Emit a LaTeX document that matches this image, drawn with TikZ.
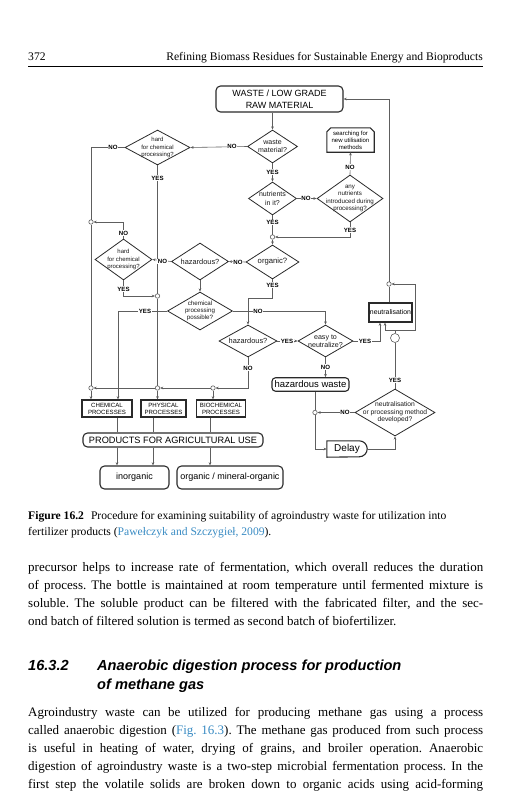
\documentclass[tikz,border=0pt]{standalone}
\usepackage{fontspec}
\setmainfont{Liberation Serif}
\newfontfamily\arialf{Liberation Sans}
\usetikzlibrary{arrows.meta,shapes.geometric}
\definecolor{lncol}{HTML}{5E5E5E}
\definecolor{bdcol}{HTML}{2A2A2A}
\definecolor{citecol}{HTML}{3A8CC4}
\frenchspacing
\tikzset{
 conn/.style={draw=lncol, line width=0.6pt},
 arr/.style={conn, -{Stealth[length=3.2pt,width=2.6pt]}},
 dia/.style={shape=diamond, draw=bdcol, line width=0.8pt, inner sep=0pt, fill=white},
 dtext/.style={align=center, inner sep=0pt, text=black!90},
 box/.style={draw=bdcol, line width=1.1pt, inner sep=0pt, align=center, fill=white},
 rbox/.style={box, rounded corners=4.5pt},
 yn/.style={font=\arialf\bfseries\fontsize{6.1}{6.5}\selectfont, fill=white, inner sep=0.7pt},
 jn/.style={circle, draw=lncol, fill=white, line width=0.6pt, minimum size=4.4pt, inner sep=0pt},
 body/.style={anchor=base west, inner sep=0pt, font=\fontsize{13}{16}\selectfont},
 capt/.style={anchor=base west, inner sep=0pt, font=\fontsize{11.6}{14}\selectfont},
 headg/.style={anchor=base west, inner sep=0pt, font=\arialf\bfseries\itshape\fontsize{14.6}{17}\selectfont},
}
\begin{document}
\begin{tikzpicture}[x=1pt,y=-1pt]
\fill[white] (0,0) rectangle (531,800);
\useasboundingbox (0,0) rectangle (531,800);

% ---------- header ----------
\node[anchor=base west, inner sep=0pt, font=\fontsize{11.6}{13}\selectfont] (pgnum) at (28,60) {372};
\node[anchor=base east, inner sep=0pt, font=\fontsize{11.6}{14}\selectfont] (runhead) at (483,60) {Refining Biomass Residues for Sustainable Energy and Bioproducts};
\coordinate (ruleL) at (28,66);
\coordinate (ruleR) at (483,66);
\draw[line width=0.6pt] (ruleL) -- (ruleR);

% ---------- boxes ----------
\node[rbox, minimum width=127pt, minimum height=26pt, font=\arialf\fontsize{9}{11.5}\selectfont] (waste) at (279.5,99) {WASTE / LOW GRADE\\RAW MATERIAL};

\node[minimum width=47pt, minimum height=24pt, inner sep=0pt, align=center, font=\arialf\fontsize{6}{7}\selectfont] (search) at (350.5,140) {searching for\\new utilisation\\methods};
\draw[draw=bdcol, line width=1.1pt] (search.south west) -- ([yshift=-4pt]search.north west) -- ([xshift=4pt]search.north west) -- ([xshift=-4pt]search.north east) -- ([yshift=-4pt]search.north east) -- (search.south east) -- cycle;

\node[box, minimum width=43pt, minimum height=19pt, font=\arialf\fontsize{6.9}{8}\selectfont] (neut) at (390.5,312.5) {neutralisation};
\node[rbox, rounded corners=3.5pt, minimum width=77pt, minimum height=13.5pt, font=\arialf\fontsize{9.5}{11}\selectfont] (hazw) at (310.5,384.5) {hazardous waste};
\node[minimum width=40pt, minimum height=16pt, inner sep=0pt, font=\arialf\fontsize{10}{12}\selectfont] (delay) at (347,449) {Delay\hspace{4pt}};
\draw[draw=bdcol, line width=1.1pt] (delay.south west) -- (delay.north west) -- ([xshift=-8pt]delay.north east) arc[start angle=90, end angle=-90, radius=8pt] -- cycle;

\node[box, minimum width=50pt, minimum height=17pt, font=\arialf\fontsize{6.1}{7}\selectfont] (chembox) at (107,408.5) {CHEMICAL\\PROCESSES};
\node[box, minimum width=45pt, minimum height=17pt, font=\arialf\fontsize{6.1}{7}\selectfont] (physbox) at (163.5,408.5) {PHYSICAL\\PROCESSES};
\node[box, minimum width=49pt, minimum height=17pt, font=\arialf\fontsize{6.1}{7}\selectfont] (biobox) at (221,408.5) {BIOCHEMICAL\\PROCESSES};
\node[rbox, minimum width=180pt, minimum height=14pt, font=\arialf\fontsize{9.2}{11}\selectfont] (prod) at (173,440) {PRODUCTS FOR AGRICULTURAL USE};
\node[rbox, minimum width=69pt, minimum height=23pt, font=\arialf\fontsize{9}{11}\selectfont] (inorg) at (134.5,477.5) {inorganic};
\node[rbox, minimum width=106pt, minimum height=23pt, font=\arialf\fontsize{9}{11}\selectfont] (orgm) at (230,477.5) {organic / mineral-organic};

% ---------- diamonds ----------
\node[dia, minimum width=50pt, minimum height=33pt, label={[name=dwastet, dtext, font=\arialf\fontsize{7}{8}\selectfont]center:{waste\\material?}}] (dwaste) at (272.5,146.5) {};
\node[dia, minimum width=65pt, minimum height=35pt, label={[name=dhardAt, dtext, font=\arialf\fontsize{6}{7.4}\selectfont]center:{hard\\for chemical\\processing?}}] (dhardA) at (157.5,147.5) {};
\node[dia, minimum width=48pt, minimum height=33pt, label={[name=dnutrt, dtext, font=\arialf\fontsize{7}{8.2}\selectfont]center:{nutrients\\in it?}}] (dnutr) at (272.5,198.5) {};
\node[dia, minimum width=66pt, minimum height=47pt, label={[name=danyt, dtext, font=\arialf\fontsize{6.2}{7.1}\selectfont]center:{any\\nutrients\\introduced during\\processing?}}] (dany) at (350,198.5) {};
\node[dia, minimum width=53pt, minimum height=34pt, label={[name=dorgt, dtext, font=\arialf\fontsize{7.7}{9}\selectfont]center:{organic?}}] (dorg) at (272.5,262) {};
\node[dia, minimum width=57pt, minimum height=37pt, label={[name=dhaz1t, dtext, font=\arialf\fontsize{7.4}{9}\selectfont]center:{hazardous?}}] (dhaz1) at (200,261.5) {};
\node[dia, minimum width=57pt, minimum height=41pt, label={[name=dhardBt, dtext, font=\arialf\fontsize{6}{7.4}\selectfont]center:{hard\\for chemical\\processing?}}] (dhardB) at (123.5,259.5) {};
\node[dia, minimum width=65pt, minimum height=38pt, label={[name=dchemt, dtext, font=\arialf\fontsize{6.2}{7.3}\selectfont]center:{chemical\\processing\\possible?}}] (dchem) at (200,311) {};
\node[dia, minimum width=58pt, minimum height=32pt, label={[name=dhaz2t, dtext, font=\arialf\fontsize{7.4}{9}\selectfont]center:{hazardous?}}] (dhaz2) at (248,341) {};
\node[dia, minimum width=55pt, minimum height=32pt, label={[name=deasyt, dtext, font=\arialf\fontsize{7.1}{8.2}\selectfont]center:{easy to\\neutralize?}}] (deasy) at (325.5,341) {};
\node[dia, minimum width=80pt, minimum height=47pt, label={[name=ddevt, dtext, font=\arialf\fontsize{6.7}{7.7}\selectfont]center:{neutralisation\\or processing method\\developed?}}] (ddev) at (395,412.5) {};

% ---------- junctions ----------
\node[jn] (c0) at (91,222) {};
\node[jn] (c1) at (272.5,237) {};
\node[jn] (c2) at (157.5,296) {};
\node[jn] (c3) at (91,388) {};
\node[jn] (c4) at (157.5,388) {};
\node[jn] (c5) at (213,388) {};
\node[jn] (c6) at (389,284) {};
\node[jn, minimum size=9pt] (c7) at (395,338) {};
\node[jn] (c8) at (315,412.5) {};

% ---------- connectors ----------
\coordinate (k1) at (91,147.5);
\coordinate (k2) at (118,311);
\coordinate (k3) at (272.5,298);
\coordinate (k5) at (395,330);
\coordinate (k6) at (415,330);
\draw[arr] (waste.south -| dwaste.north) -- (dwaste.north);
\draw[arr] (dwaste.west) -- (dhardA.east);
\draw[conn] (dhardA.west) -- (k1) -- (c0.north);
\draw[conn] (c0.south) -- (c3.north);
\draw[arr] (c3.south) -- (c3.south |- chembox.north);
\draw[conn] (dhardA.south) -- (c2.north);
\draw[conn] (c2.south) -- (c4.north);
\draw[arr] (c4.south) -- (c4.south |- physbox.north);
\draw[arr] (dwaste.south) -- (dnutr.north);
\draw[arr] (dnutr.east) -- (dany.west);
\draw[arr] (dany.north) -- (search.south);
\draw[conn] (dnutr.south) -- (c1.north);
\draw[arr] (dany.south) |- (c1.east);
\draw[arr] (c1.south) -- (dorg.north);
\draw[arr] (dorg.west) -- (dhaz1.east);
\draw[arr] (dhaz1.west) -- (dhardB.east);
\draw[arr] (dhardB.north) |- (c0.east);
\draw[arr] (dhardB.south) |- (c2.west);
\draw[arr] (dhaz1.south) -- (dchem.north);
\draw[arr] (dchem.west) -- (k2) -- (k2 |- chembox.north);
\draw[arr] (dchem.east) -| (deasy.north);
\draw[arr] (dorg.south) -- (k3) -| (dhaz2.north);
\draw[arr] (dhaz2.east) -- (deasy.west);
\draw[arr] (deasy.east) -| ([xshift=-10.5pt]neut.south);
\draw[arr] (deasy.south) -- (deasy.south |- hazw.north);
\draw[arr] (dhaz2.south) |- (c5.east);
\draw[arr] (c5.west) -- (c4.east);
\draw[arr] (c4.west) -- (c3.east);
\draw[arr] (c5.south) -- (c5.south |- biobox.north);
\draw[conn] (c6.south |- neut.north) -- (c6.south);
\draw[arr] (c6.north) |- (waste.east);
\draw[conn] (c7.north) -- (k5);
\draw[arr] (k5) -| ([xshift=-5.5pt]neut.south);
\draw[arr] (k5) -- (k6) |- (c6.east);
\draw[conn] (c7.south) -- (ddev.north);
\draw[arr] (ddev.west) -- (c8.east);
\draw[conn] (c8.north |- hazw.south) -- (c8.north);
\draw[arr] (c8.south) |- (delay.west);
\draw[arr] (delay.east) -| (ddev.south);
\draw[conn] ([xshift=10pt]chembox.south) -- ([xshift=10pt]chembox.south |- prod.north);
\draw[conn] ([xshift=-10.5pt]physbox.south) -- ([xshift=-10.5pt]physbox.south |- prod.north);
\draw[conn] ([xshift=-11pt]biobox.south) -- ([xshift=-11pt]biobox.south |- prod.north);
\draw[arr] ([xshift=-17.5pt]inorg.north |- prod.south) -- ([xshift=-17.5pt]inorg.north);
\draw[arr] ([xshift=18.5pt]inorg.north |- prod.south) -- ([xshift=18.5pt]inorg.north);
\draw[arr] ([xshift=-20pt]orgm.north |- prod.south) -- ([xshift=-20pt]orgm.north);

% ---------- yes / no labels ----------
\node[yn] (l01) at (232,146.5) {NO};
\node[yn] (l02) at (113,147.5) {NO};
\node[yn] (l03) at (157.5,178) {YES};
\node[yn] (l04) at (272.5,172) {YES};
\node[yn] (l05) at (306,198.5) {NO};
\node[yn] (l06) at (350,167) {NO};
\node[yn] (l07) at (350,230) {YES};
\node[yn] (l08) at (272.5,222.5) {YES};
\node[yn] (l09) at (238,262) {NO};
\node[yn] (l10) at (162.5,261.5) {NO};
\node[yn] (l11) at (123.5,233) {NO};
\node[yn] (l12) at (123.5,289) {YES};
\node[yn] (l13) at (145,311) {YES};
\node[yn] (l14) at (258,311) {NO};
\node[yn] (l15) at (272.5,285) {YES};
\node[yn] (l16) at (287,341) {YES};
\node[yn] (l17) at (365,341) {YES};
\node[yn] (l18) at (325.5,367) {NO};
\node[yn] (l19) at (248,368) {NO};
\node[yn] (l20) at (395,380) {YES};
\node[yn] (l21) at (345,412.5) {NO};

% ---------- caption ----------
\node[capt] (cap1) at (28,519.5) {\textbf{Figure 16.2}\hspace{0.6em}Procedure for examining suitability of agroindustry waste for utilization into};
\node[capt] (cap2) at (28,535) {fertilizer products ({\color{citecol}Pawełczyk and Szczygieł, 2009}).};

% ---------- body ----------
\node[body] (p1a) at (28,571) {\makebox[455pt][s]{precursor helps to increase rate of fermentation, which overall reduces the duration}};
\node[body] (p1b) at (28,589) {\makebox[455pt][s]{of process. The bottle is maintained at room temperature until fermented mixture is}};
\node[body] (p1c) at (28,607) {\makebox[455pt][s]{soluble. The soluble product can be filtered with the fabricated filter, and the sec-}};
\node[body] (p1d) at (28,625) {ond batch of filtered solution is termed as second batch of biofertilizer.};

\node[headg] (h1) at (28,670) {16.3.2};
\node[headg] (h2) at (97,670) {Anaerobic digestion process for production};
\node[headg] (h3) at (97,689) {of methane gas};

\node[body] (p2a) at (28,716) {\makebox[455pt][s]{Agroindustry waste can be utilized for producing methane gas using a process}};
\node[body] (p2b) at (28,734) {\makebox[455pt][s]{called anaerobic digestion ({\color{citecol}Fig.~16.3}). The methane gas produced from such process}};
\node[body] (p2c) at (28,752) {\makebox[455pt][s]{is useful in heating of water, drying of grains, and broiler operation. Anaerobic}};
\node[body] (p2d) at (28,770) {\makebox[455pt][s]{digestion of agroindustry waste is a two-step microbial fermentation process. In the}};
\node[body] (p2e) at (28,788) {\makebox[455pt][s]{first step the volatile solids are broken down to organic acids using acid-forming}};
\end{tikzpicture}
\end{document}
